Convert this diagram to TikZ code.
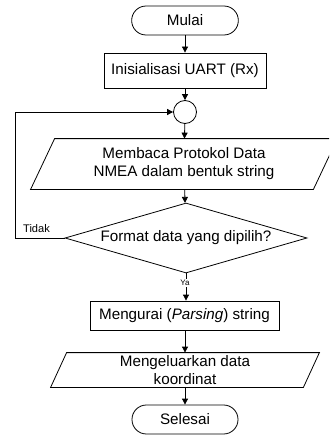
\documentclass[tikz,border=0pt]{standalone}
\usepackage{fontspec}
\setmainfont{Liberation Sans}
\usetikzlibrary{positioning,shapes.geometric,arrows.meta}

\begin{document}
\begin{tikzpicture}[
  x=0.75pt, y=-0.75pt,
  >={Triangle[length=4.5pt,width=4.5pt]},
  every node/.style={font=\fontsize{11.4}{13.5}\selectfont},
  term/.style={draw, rounded corners=10.8pt, minimum width=80pt, minimum height=21.75pt, inner sep=0pt},
  proc/.style={draw, minimum height=21.75pt, inner sep=0pt},
  io/.style={align=center, inner sep=0pt},
  dec/.style={draw, diamond, aspect=3.46, inner sep=0pt, minimum width=181.5pt, minimum height=52.5pt},
  jn/.style={draw, circle, minimum size=17.25pt, inner sep=0pt},
  fl/.style={->, line width=0.6pt},
  lbl/.style={font=\fontsize{8.3}{10}\selectfont, inner sep=0pt}
]
\clip (0,0) rectangle (329,435);
\tikzset{every path/.append style={line width=0.6pt}}
% ---------------- nodes ----------------
\node[term] (mulai) at (185,20.5) {Mulai};
\node[proc, minimum width=121.5pt, minimum height=26.25pt] (init) at (185,70.5) {Inisialisasi UART (Rx)};
\node[jn] (join) at (185,112) {};
\node[io, minimum width=211.5pt, minimum height=37.5pt] (baca) at (184,164) {Membaca Protokol Data\\NMEA dalam bentuk string};
\draw ([xshift=-9pt]baca.south west) -- ([xshift=-9pt]baca.south east)
   -- ([xshift=9pt]baca.north east) -- ([xshift=9pt]baca.north west) -- cycle;
\node[dec] (cek) at (186,238) {Format data yang dipilih?};
\node[proc, minimum width=141.75pt] (urai) at (184.5,315.5) {Mengurai (\textit{Parsing}) string};
\node[io, minimum width=189pt, minimum height=25.5pt] (keluar) at (185,370) {Mengeluarkan data\\koordinat};
\draw ([xshift=-6pt]keluar.south west) -- ([xshift=-6pt]keluar.south east)
   -- ([xshift=6pt]keluar.north east) -- ([xshift=6pt]keluar.north west) -- cycle;
\node[term, minimum width=79.5pt] (selesai) at (185,419.5) {Selesai};
% ---------------- arrows ----------------
\draw[fl] (mulai) -- (init);
\draw[fl] (init) -- (join);
\draw[fl] (join) -- (baca);
\draw[fl] (baca) -- (cek);
\draw[fl] (cek.south) -- (cek.south |- urai.north);
\draw[fl] (urai.south -| keluar.north) -- (keluar.north);
\draw[fl] (keluar) -- (selesai);
\coordinate (balik) at (15,112);
\draw[fl] (cek.west) -| (balik) -- (join.west);
\node[lbl] (tidak) at (36.5,229) {Tidak};
\node[lbl, fill=white, inner sep=0.6pt, font=\fontsize{6}{6.5}\selectfont] (ya) at (185,283) {Ya};
\end{tikzpicture}
\end{document}
